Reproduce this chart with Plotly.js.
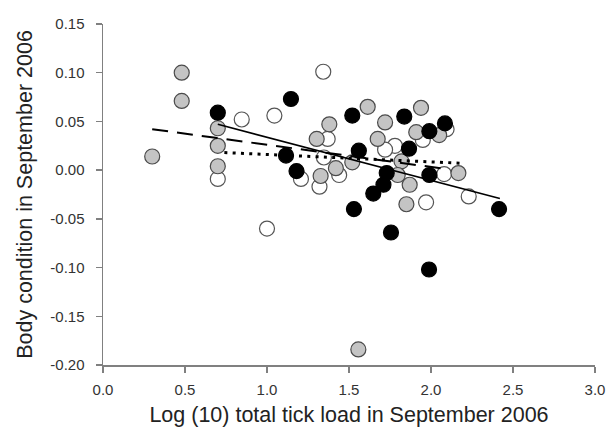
<!DOCTYPE html>
<html>
<head>
<meta charset="utf-8">
<script src="https://cdn.plot.ly/plotly-3.0.1.min.js"></script>
<style>html,body{margin:0;padding:0;background:#fff}#chart{width:611px;height:430px}</style>
</head>
<body>
<div id="chart"></div>
<script>
// White (open) circles
var whiteX = [0.70, 0.846, 1.045, 1.00, 1.343, 1.37, 1.347, 1.44, 1.207, 1.32, 1.78, 1.72, 1.95, 2.095, 2.08, 1.97, 2.23];
var whiteY = [-0.009, 0.052, 0.056, -0.060, 0.101, 0.032, 0.013, -0.005, -0.009, -0.017, 0.025, 0.021, 0.031, 0.042, -0.004, -0.033, -0.027];
// Grey circles
var greyX = [0.30, 0.48, 0.48, 0.70, 0.70, 0.70, 1.303, 1.38, 1.327, 1.42, 1.52, 1.614, 1.675, 1.72, 1.82, 1.797, 1.87, 1.85, 1.939, 1.91, 2.05, 2.167, 1.557];
var greyY = [0.014, 0.100, 0.071, 0.043, 0.025, 0.004, 0.032, 0.047, -0.006, 0.002, 0.008, 0.065, 0.032, 0.049, 0.009, -0.005, -0.015, -0.035, 0.064, 0.039, 0.036, -0.003, -0.184];
// Black circles
var blackX = [0.70, 1.146, 1.116, 1.18, 1.52, 1.56, 1.53, 1.648, 1.71, 1.73, 1.756, 1.837, 1.866, 1.99, 2.085, 1.99, 1.988, 2.415];
var blackY = [0.059, 0.073, 0.015, -0.001, 0.056, 0.020, -0.040, -0.024, -0.015, -0.003, -0.064, 0.055, 0.022, 0.040, 0.048, -0.005, -0.102, -0.040];
// Fitted lines (endpoints)
var solidX = [0.70, 2.42], solidY = [0.047, -0.029];
var dashX = [0.30, 2.10], dashY = [0.042, 0.001];
var dotX = [0.74, 2.20], dotY = [0.018, 0.007];

var xTicks = [0, 0.5, 1.0, 1.5, 2.0, 2.5, 3.0];
var yTicks = [-0.20, -0.15, -0.10, -0.05, 0.00, 0.05, 0.10, 0.15];

var msize = 15;
var traces = [
  {x: whiteX, y: whiteY, mode: 'markers', type: 'scatter',
   marker: {size: msize, color: '#ffffff', line: {color: '#555555', width: 1.2}}},
  {x: greyX, y: greyY, mode: 'markers', type: 'scatter',
   marker: {size: msize, color: '#c4c4c4', line: {color: '#4a4a4a', width: 1.2}}},
  {x: blackX, y: blackY, mode: 'markers', type: 'scatter',
   marker: {size: msize, color: '#000000', line: {color: '#000000', width: 1.2}}},
  {x: solidX, y: solidY, mode: 'lines', type: 'scatter',
   line: {color: '#000000', width: 1.6}},
  {x: dashX, y: dashY, mode: 'lines', type: 'scatter',
   line: {color: '#000000', width: 2, dash: '16px,9px'}},
  {x: dotX, y: dotY, mode: 'lines', type: 'scatter',
   line: {color: '#000000', width: 3, dash: '3px,5.3px'}}
];

var layout = {
  width: 611, height: 430,
  margin: {l: 103, r: 16, t: 24, b: 65},
  showlegend: false,
  paper_bgcolor: '#ffffff', plot_bgcolor: '#ffffff',
  font: {family: 'Liberation Sans, Arial, sans-serif', color: '#222222'},
  xaxis: {
    range: [0, 3.0], tickvals: xTicks, ticktext: xTicks.map(function(v){return v.toFixed(1);}),
    showgrid: false, zeroline: false, showline: true, linecolor: '#808080', linewidth: 1.5,
    ticks: 'outside', ticklen: 6, tickcolor: '#808080', tickwidth: 1.5,
    tickfont: {size: 15, color: '#333333'}, ticklabelstandoff: 4,
    title: {text: 'Log (10) total tick load in September 2006', font: {size: 21.5, color: '#222222'}, standoff: 10}
  },
  yaxis: {
    range: [-0.2, 0.15], tickvals: yTicks, ticktext: yTicks.map(function(v){return v.toFixed(2);}),
    showgrid: false, zeroline: false, showline: true, linecolor: '#808080', linewidth: 1.5,
    ticks: 'outside', ticklen: 6, tickcolor: '#808080', tickwidth: 1.5,
    tickfont: {size: 15, color: '#333333'}, ticklabelstandoff: 8,
    title: {text: 'Body condition in September 2006', font: {size: 21.5, color: '#222222'}, standoff: 12}
  }
};

Plotly.newPlot('chart', traces, layout, {displayModeBar: false, staticPlot: true});
</script>
</body>
</html>
